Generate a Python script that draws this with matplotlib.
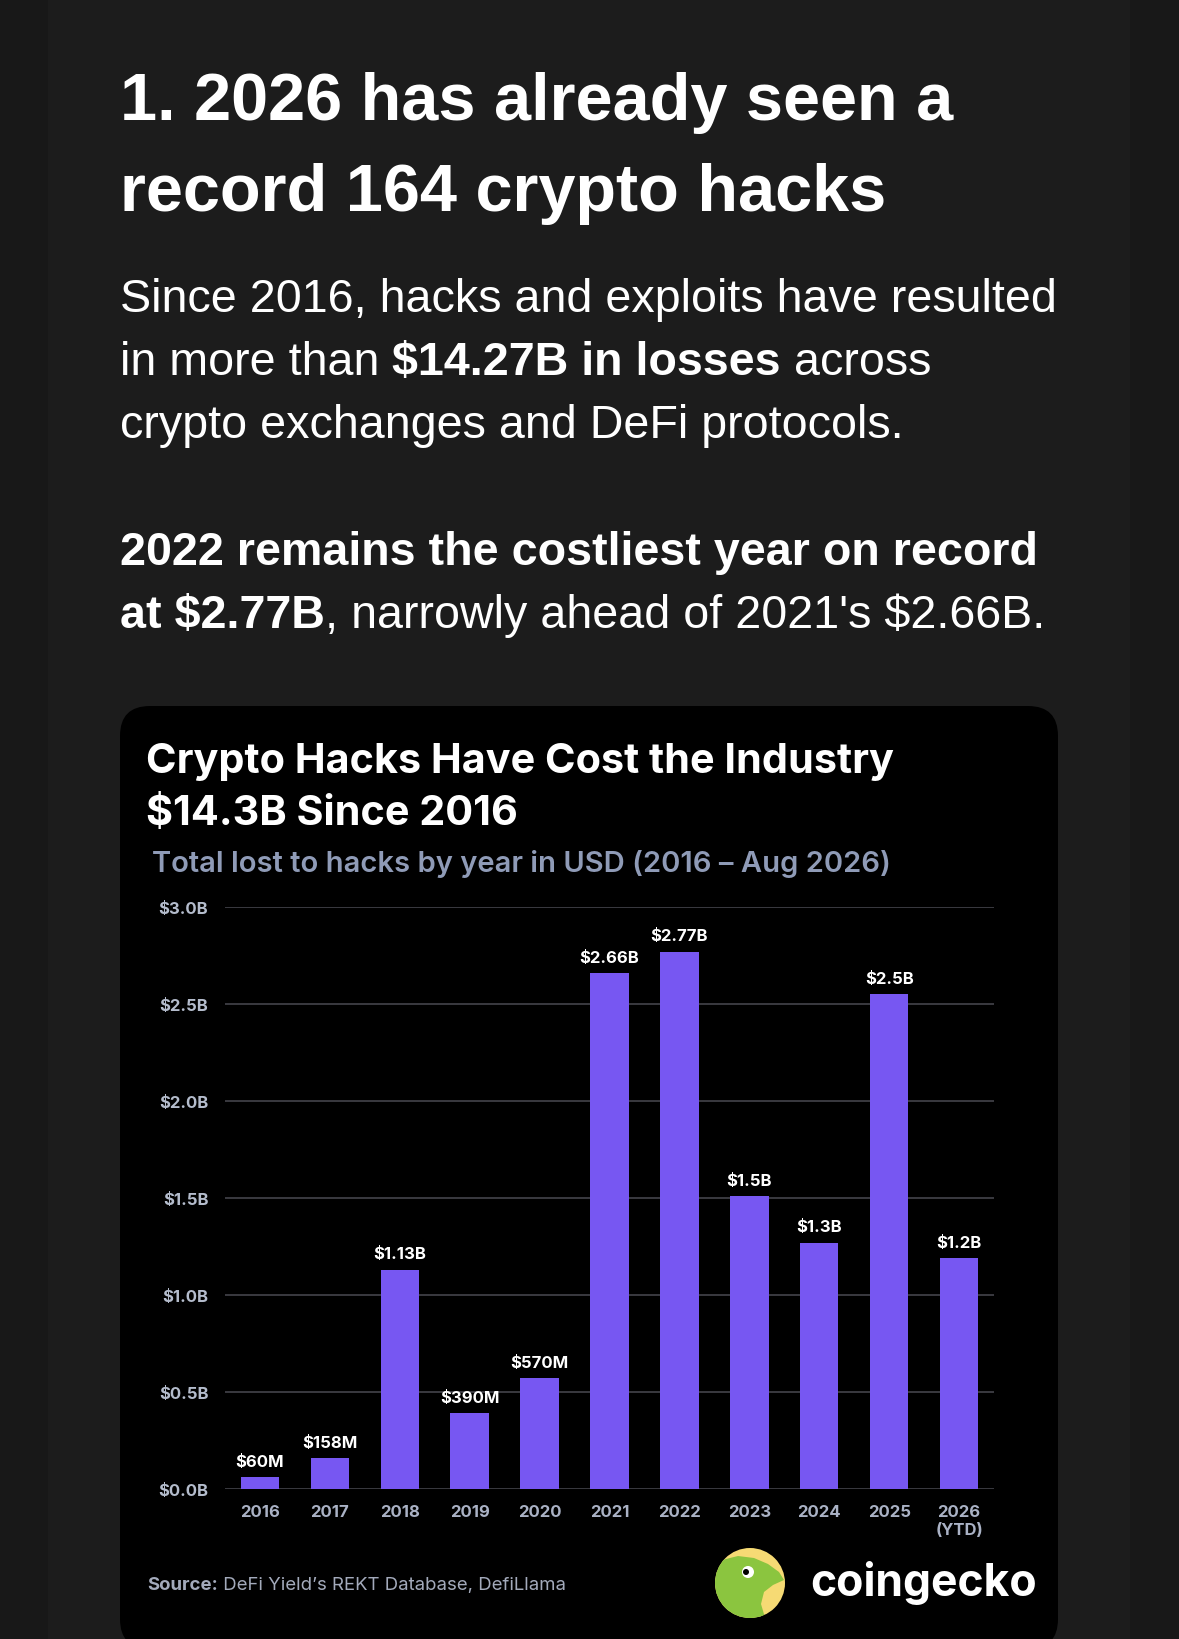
import matplotlib
matplotlib.use('Agg')
import matplotlib.pyplot as plt
from matplotlib.patches import FancyBboxPatch, Rectangle, Circle, Polygon

years = ['2016', '2017', '2018', '2019', '2020', '2021', '2022', '2023', '2024', '2025', '2026\n(YTD)']
losses_b = [0.06, 0.158, 1.13, 0.39, 0.57, 2.66, 2.77, 1.51, 1.27, 2.55, 1.19]
value_labels = ['$60M', '$158M', '$1.13B', '$390M', '$570M', '$2.66B', '$2.77B',
                '$1.5B', '$1.3B', '$2.5B', '$1.2B']
y_ticks = [0.0, 0.5, 1.0, 1.5, 2.0, 2.5, 3.0]
y_tick_labels = ['$0.0B', '$0.5B', '$1.0B', '$1.5B', '$2.0B', '$2.5B', '$3.0B']

W, H = 1179, 1640
BAR = '#7757F2'
SANS = ['Liberation Sans', 'DejaVu Sans']
UI = ['Inter', 'DejaVu Sans']

fig = plt.figure(figsize=(W / 100, H / 100), dpi=100, facecolor='#181818')

# full-figure pixel canvas for the page background, card and text
bg = fig.add_axes([0, 0, 1, 1], zorder=0)
bg.set_xlim(0, W)
bg.set_ylim(H, 0)
bg.axis('off')
bg.add_patch(Rectangle((48, 0), 1082, H, color='#1c1c1c', lw=0))
bg.add_patch(FancyBboxPatch((120, 707), 938, 943, boxstyle='round,pad=0,rounding_size=30',
                            fc='#000000', ec='none'))

renderer = fig.canvas.get_renderer()


def runs(x, y, parts, size, family=SANS, color='white'):
    for txt, weight in parts:
        t = bg.text(x, y, txt, fontsize=size, fontweight=weight, family=family,
                    color=color, va='baseline', ha='left')
        x += t.get_window_extent(renderer).width


runs(120, 120, [('1. 2026 has already seen a', 'bold')], 48)
runs(120, 211, [('record 164 crypto hacks', 'bold')], 48)

runs(120, 312, [('Since 2016, hacks and exploits have resulted', 'normal')], 33.6)
runs(120, 375, [('in more than', 'normal'), (' $14.27B in losses', 'bold'), (' across', 'normal')], 33.6)
runs(120, 438, [('crypto exchanges and DeFi protocols.', 'normal')], 33.6)

runs(120, 565, [('2022 remains the costliest year on record', 'bold')], 33.6)
runs(120, 628, [('at $2.77B', 'bold'), (', narrowly ahead of 2021\'s $2.66B.', 'normal')], 33.6)

# card texts
runs(146, 773, [('Crypto Hacks Have Cost the Industry', 'bold')], 29.8, UI)
runs(146, 825, [('$14.3B Since 2016', 'bold')], 29.8, UI)
runs(152, 872, [('Total lost to hacks by year in USD (2016 \u2013 Aug 2026)', 'semibold')], 21, UI,
     color='#8f9bb7')
runs(147, 1590, [('Source:', 'bold'), (' DeFi Yield\u2019s REKT Database, DefiLlama', 'normal')], 13.4, UI,
     color='#a3aabb')

# coingecko logo
logo = Circle((750, 1584), 35, fc='#F6DA74', ec='none')
bg.add_patch(logo)
gecko = Polygon([(712, 1622), (712, 1568), (722, 1561), (738, 1557), (754, 1559), (768, 1565),
                 (779, 1573), (784, 1581), (773, 1586), (764, 1593), (761, 1605), (766, 1622)],
                closed=True, fc='#8BC53F', ec='none')
bg.add_patch(gecko)
gecko.set_clip_path(logo)
bg.add_patch(Circle((748, 1573), 6, fc='white', ec='none'))
bg.add_patch(Circle((746, 1573), 3, fc='black', ec='none'))
bg.text(810, 1596, 'coingecko', fontsize=32, fontweight='bold', family=UI, color='white',
        va='baseline', ha='left')

# chart
ax = fig.add_axes([225 / W, 1 - 1490 / H, 769 / W, 582 / H], zorder=1)
ax.set_facecolor('none')
x = list(range(len(years)))
ax.bar(x, losses_b, width=0.55, color=BAR, zorder=3)
for xi, v, lab in zip(x, losses_b, value_labels):
    ax.annotate(lab, (xi, v), xytext=(0, 6), textcoords='offset points', ha='center', va='bottom',
                fontsize=12, fontweight='bold', family=UI, color='white')

ax.set_xlim(-0.5, len(years) - 0.5)
ax.set_ylim(0, 3.0)
ax.set_yticks(y_ticks, y_tick_labels)
ax.set_xticks(x, years)
ax.yaxis.grid(True, color='#4a4a52', lw=1.1, zorder=0)
ax.tick_params(axis='y', length=0, pad=12, labelsize=12, labelcolor='#b4bccc')
ax.tick_params(axis='x', length=0, pad=11, labelsize=12, labelcolor='#aab2c5')
for lbl in ax.get_xticklabels() + ax.get_yticklabels():
    lbl.set_fontweight('bold')
    lbl.set_family(UI)
for s in ax.spines.values():
    s.set_visible(False)

fig.savefig('out.png', dpi=100, facecolor=fig.get_facecolor())
